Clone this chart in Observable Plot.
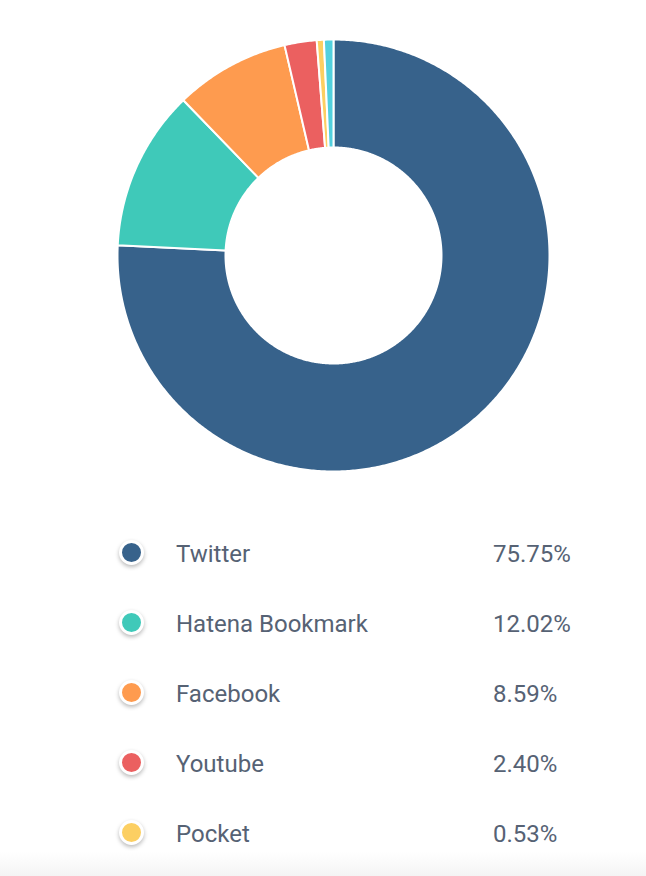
<!DOCTYPE html>
<html>
<head>
<meta charset="utf-8">
<script src="https://cdn.jsdelivr.net/npm/d3@7"></script>
<script src="https://cdn.jsdelivr.net/npm/@observablehq/plot@0.6"></script>
<style>
  html, body { margin: 0; padding: 0; background: #ffffff; }
  body { width: 646px; height: 876px; position: relative; overflow: hidden; font-family: Roboto, "Noto Sans", sans-serif; }
  #chart svg { display: block; }
  #legend { position: absolute; left: 0; top: 0; width: 646px; }
  .row { position: absolute; left: 0; width: 646px; height: 40px; }
  .dot { position: absolute; left: 118.5px; top: 3.5px; width: 19px; height: 19px; border-radius: 50%; border: 3px solid #fff; box-shadow: 0 2px 4px rgba(0,0,0,0.28); }
  .lab { position: absolute; left: 176px; top: 4px; font-size: 24px; color: #566274; line-height: 28px; }
  .pct { position: absolute; left: 493px; top: 4px; font-size: 24px; color: #566274; line-height: 28px; }
  #fade { position: absolute; left: 0; top: 852px; width: 646px; height: 24px; background: linear-gradient(#ffffff00, #f4f4f4); }
</style>
</head>
<body>
<div id="chart"></div>
<div id="legend"></div>
<div id="fade"></div>
<script>
const categories = ["Twitter", "Hatena Bookmark", "Facebook", "Youtube", "Pocket", "Other"];
const shares = [75.75, 12.02, 8.59, 2.40, 0.53, 0.71];
const colors = ["#37628b", "#3fc9b9", "#fe9b4f", "#eb6060", "#fccf62", "#52d0de"];
const legendCount = 5;

// Build slice outlines (in unit data coordinates) from the shares
const total = d3.sum(shares);
const inner = 0.5, outer = 1;
const points = [];
let acc = 0;
categories.forEach((name, i) => {
  const a0 = acc / total * 2 * Math.PI;
  acc += shares[i];
  const a1 = acc / total * 2 * Math.PI;
  const n = Math.max(2, Math.ceil((a1 - a0) / (Math.PI / 360)));
  for (let k = 0; k <= n; k++) {
    const a = a0 + (a1 - a0) * k / n;
    points.push({name, x: outer * Math.sin(a), y: outer * Math.cos(a)});
  }
  for (let k = n; k >= 0; k--) {
    const a = a0 + (a1 - a0) * k / n;
    points.push({name, x: inner * Math.sin(a), y: inner * Math.cos(a)});
  }
});

const chart = Plot.plot({
  width: 646,
  height: 490,
  marginLeft: 117,
  marginRight: 97,
  marginTop: 39,
  marginBottom: 19,
  x: {domain: [-1, 1], axis: null},
  y: {domain: [-1, 1], axis: null},
  color: {domain: categories, range: colors},
  marks: [
    Plot.line(points, {x: "x", y: "y", z: "name", fill: "name", stroke: "white", strokeWidth: 2, strokeLinejoin: "round", curve: "linear-closed"})
  ]
});
document.getElementById("chart").appendChild(chart);

const legend = document.getElementById("legend");
for (let i = 0; i < legendCount; i++) {
  const row = document.createElement("div");
  row.className = "row";
  row.style.top = (536 + i * 70) + "px";
  row.innerHTML = `<div class="dot" style="background:${colors[i]}"></div>` +
    `<div class="lab">${categories[i]}</div>` +
    `<div class="pct">${shares[i].toFixed(2)}%</div>`;
  legend.appendChild(row);
}
</script>
</body>
</html>
